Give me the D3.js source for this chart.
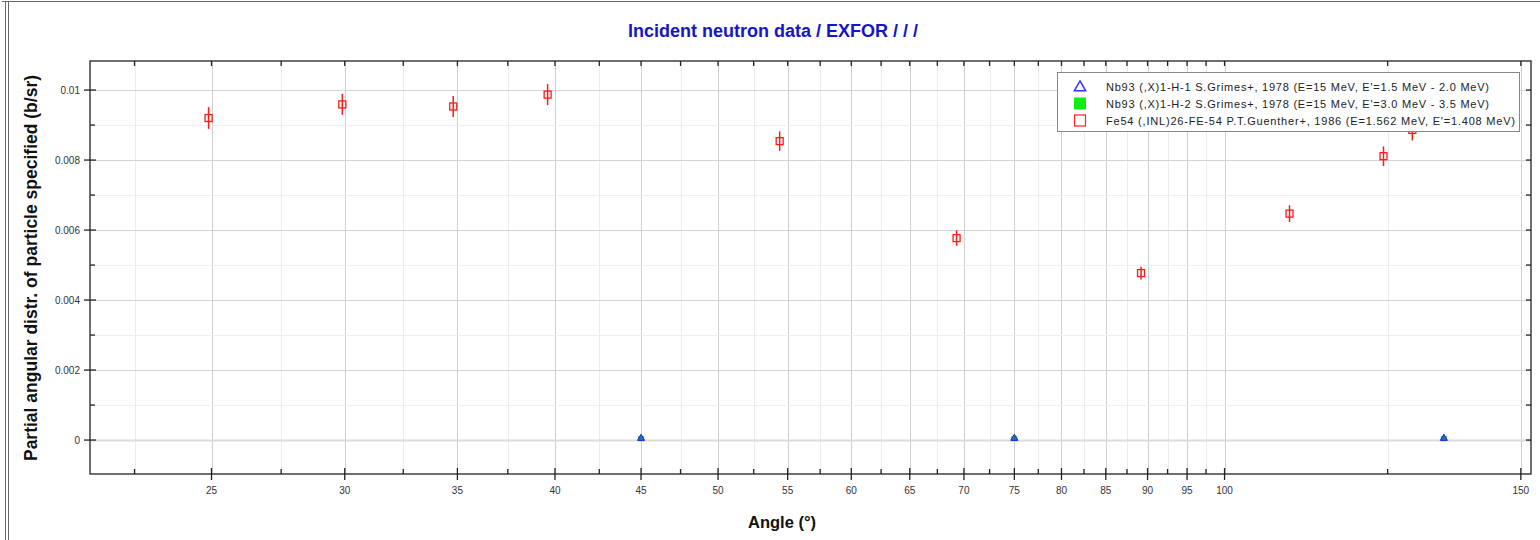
<!DOCTYPE html>
<html>
<head>
<meta charset="utf-8">
<script src="https://cdn.jsdelivr.net/npm/d3@7"></script>
<style>
  html, body { margin: 0; padding: 0; background: #fff; }
  svg { display: block; font-family: "Liberation Sans", Arial, sans-serif; }
</style>
</head>
<body>
<svg id="chart" width="1540" height="540"></svg>
<script>
// angles (deg) and values (b/sr)
const feAngles = [24.9, 29.9, 34.8, 39.6, 54.4, 69.3, 89.2, 109.3, 124.3, 129.3];
const feValues = [0.0092, 0.00959, 0.00953, 0.00987, 0.00854, 0.00577, 0.00477, 0.00647, 0.00811, 0.00886];
const feErrors = [0.00031, 0.0003, 0.0003, 0.0003, 0.00028, 0.00022, 0.00018, 0.00024, 0.00028, 0.0003];

const nbAngles = [45, 75, 135];
const nb1Values = [0.00005, 0.00005, 0.00005];
const nb2Values = [0.00004, 0.00004, 0.00004];

const xMajor = [25, 30, 35, 40, 45, 50, 55, 60, 65, 70, 75, 80, 85, 90, 95, 100, 150];
const xMinor = [22.5, 27.5, 32.5, 37.5, 42.5, 47.5, 52.5, 57.5, 62.5, 67.5, 72.5, 77.5, 82.5, 87.5, 92.5, 97.5, 125];
const yMajor = [0, 0.002, 0.004, 0.006, 0.008, 0.01];
const yMinor = [-0.001, 0.001, 0.003, 0.005, 0.007, 0.009];

const legendLabels = [
  "Nb93 (,X)1-H-1 S.Grimes+, 1978 (E=15 MeV, E'=1.5 MeV - 2.0 MeV)",
  "Nb93 (,X)1-H-2 S.Grimes+, 1978 (E=15 MeV, E'=3.0 MeV - 3.5 MeV)",
  "Fe54 (,INL)26-FE-54 P.T.Guenther+, 1986 (E=1.562 MeV, E'=1.408 MeV)"
];

const PLOT = { left: 90, right: 1531, top: 61, bottom: 474 };

const svg = d3.select("#chart");

const x = d3.scaleLog().domain([21.17, 152.1]).range([PLOT.left, PLOT.right]);
const y = d3.scaleLinear().domain([-0.00097, 0.01083]).range([PLOT.bottom, PLOT.top]);

// window border
svg.append("line").attr("x1", 2).attr("x2", 1540).attr("y1", 1.5).attr("y2", 1.5)
  .attr("stroke", "#666").attr("stroke-width", 1);
[5.5, 8.5].forEach(xx => {
  svg.append("line").attr("x1", xx).attr("x2", xx).attr("y1", 2).attr("y2", 540)
    .attr("stroke", "#666").attr("stroke-width", 1);
});

// grid
const grid = svg.append("g");
function vGrid(vals, color) {
  grid.selectAll(null).data(vals).enter().append("line")
    .attr("x1", d => Math.round(x(d)) + 0.5).attr("x2", d => Math.round(x(d)) + 0.5)
    .attr("y1", PLOT.top).attr("y2", PLOT.bottom)
    .attr("stroke", color).attr("stroke-width", 1);
}
function hGrid(vals, color, w) {
  grid.selectAll(null).data(vals).enter().append("line")
    .attr("x1", PLOT.left).attr("x2", PLOT.right)
    .attr("y1", d => Math.round(y(d)) + 0.5).attr("y2", d => Math.round(y(d)) + 0.5)
    .attr("stroke", color).attr("stroke-width", w);
}
vGrid(xMinor.filter(d => x(d) > PLOT.left), "#ececec");
vGrid(xMajor, "#cfcfcf");
hGrid(yMinor.filter(d => y(d) < PLOT.bottom), "#efefef", 1);
hGrid(yMajor.filter(d => d !== 0), "#d4d4d4", 1);
hGrid([0], "#dcdcdc", 2);

// frame
svg.append("rect")
  .attr("x", PLOT.left).attr("y", PLOT.top)
  .attr("width", PLOT.right - PLOT.left).attr("height", PLOT.bottom - PLOT.top)
  .attr("fill", "none").attr("stroke", "#222").attr("stroke-width", 1.3);

// ticks
const ticks = svg.append("g").attr("stroke", "#222").attr("stroke-width", 1.3);
function xTicks(vals, y1, y2) {
  ticks.selectAll(null).data(vals.filter(d => x(d) > PLOT.left)).enter().append("line")
    .attr("x1", d => x(d)).attr("x2", d => x(d)).attr("y1", y1).attr("y2", y2);
}
function yTicks(vals, x1, x2) {
  ticks.selectAll(null).data(vals.filter(d => y(d) < PLOT.bottom)).enter().append("line")
    .attr("y1", d => y(d)).attr("y2", d => y(d)).attr("x1", x1).attr("x2", x2);
}
xTicks(xMajor, PLOT.bottom - 6, PLOT.bottom + 6);
xTicks(xMinor, PLOT.bottom - 5, PLOT.bottom);
xTicks(xMajor.concat(xMinor), PLOT.top, PLOT.top + 5);
yTicks(yMajor, PLOT.left - 6, PLOT.left + 6);
yTicks(yMinor, PLOT.left, PLOT.left + 5);
yTicks(yMajor.concat(yMinor), PLOT.right - 5, PLOT.right);

// tick labels
svg.append("g").selectAll("text").data(xMajor).enter().append("text")
  .attr("x", d => x(d)).attr("y", PLOT.bottom + 20)
  .attr("text-anchor", "middle")
  .attr("font-size", 10).attr("fill", "#333")
  .text(d => d);

svg.append("g").selectAll("text").data(yMajor).enter().append("text")
  .attr("x", PLOT.left - 10).attr("y", d => y(d))
  .attr("text-anchor", "end").attr("dominant-baseline", "central")
  .attr("font-size", 10).attr("fill", "#333")
  .text(d => d === 0 ? "0" : d3.format("~g")(d));

// titles
svg.append("text")
  .attr("x", 773).attr("y", 37)
  .attr("text-anchor", "middle")
  .attr("font-size", 18).attr("font-weight", "bold").attr("fill", "#1414c8")
  .text("Incident neutron data / EXFOR / / /");

svg.append("text")
  .attr("x", 782).attr("y", 528)
  .attr("text-anchor", "middle")
  .attr("font-size", 16.5).attr("font-weight", "bold").attr("fill", "#111")
  .text("Angle (°)");

svg.append("text")
  .attr("transform", "translate(37,268) rotate(-90)")
  .attr("text-anchor", "middle")
  .attr("font-size", 17.5).attr("font-weight", "bold").attr("fill", "#111")
  .text("Partial angular distr. of particle specified (b/sr)");

// data
const marks = svg.append("g");

const fe = feAngles.map((a, i) => ({ a, v: feValues[i], e: feErrors[i] }));
marks.selectAll(null).data(fe).enter().append("line")
  .attr("x1", d => x(d.a)).attr("x2", d => x(d.a))
  .attr("y1", d => y(d.v + d.e)).attr("y2", d => y(d.v - d.e))
  .attr("stroke", "#ff1a1a").attr("stroke-width", 1.5);
marks.selectAll(null).data(fe).enter().append("rect")
  .attr("x", d => x(d.a) - 3.5).attr("y", d => y(d.v) - 3.5)
  .attr("width", 7).attr("height", 7)
  .attr("fill", "none").attr("stroke", "#ff1a1a").attr("stroke-width", 1.3);

const nb = nbAngles.map((a, i) => ({ a, v1: nb1Values[i], v2: nb2Values[i] }));
marks.selectAll(null).data(nb).enter().append("rect")
  .attr("x", d => x(d.a) - 3).attr("y", d => y(d.v2) - 2.5)
  .attr("width", 6).attr("height", 5)
  .attr("fill", "#22cc22");
const tri = d3.symbol().type(d3.symbolTriangle).size(22);
marks.selectAll(null).data(nb).enter().append("path")
  .attr("transform", d => `translate(${x(d.a)},${y(d.v1)})`)
  .attr("d", tri)
  .attr("fill", "#1a7a9a").attr("stroke", "#2222ee").attr("stroke-width", 1);

// legend
const lg = svg.append("g");
lg.append("rect")
  .attr("x", 1057.5).attr("y", 72.5).attr("width", 462).attr("height", 59)
  .attr("fill", "#fff").attr("stroke", "#888").attr("stroke-width", 1);
const rowY = [86.5, 103.5, 120.5];
lg.append("path")
  .attr("transform", `translate(1080,${rowY[0] + 1})`)
  .attr("d", d3.symbol().type(d3.symbolTriangle).size(55))
  .attr("fill", "none").attr("stroke", "#3333ff").attr("stroke-width", 1.5);
lg.append("rect")
  .attr("x", 1074).attr("y", rowY[1] - 6).attr("width", 12).attr("height", 12)
  .attr("fill", "#11ee11");
lg.append("rect")
  .attr("x", 1074.5).attr("y", rowY[2] - 5.5).attr("width", 11).attr("height", 11)
  .attr("fill", "none").attr("stroke", "#ff2222").attr("stroke-width", 1.2);
lg.selectAll("text").data(legendLabels).enter().append("text")
  .attr("x", 1106).attr("y", (d, i) => rowY[i])
  .attr("dominant-baseline", "central")
  .attr("font-size", 11).attr("fill", "#222")
  .attr("textLength", (d, i) => [383, 383, 409][i])
  .attr("lengthAdjust", "spacing")
  .text(d => d);
</script>
</body>
</html>
